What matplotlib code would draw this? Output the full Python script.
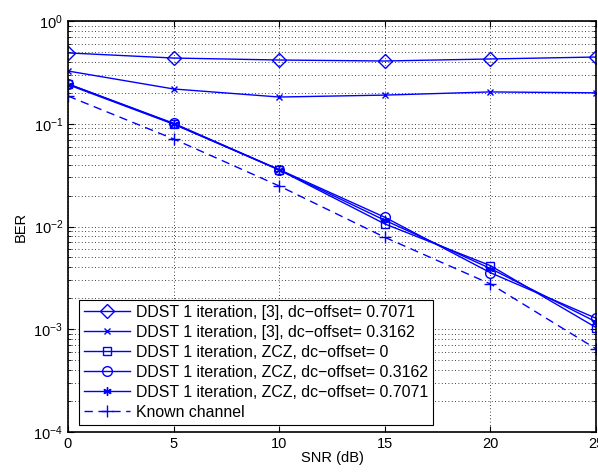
import numpy as np
import matplotlib
matplotlib.use('Agg')
from matplotlib import pyplot as plt
from matplotlib.ticker import LogLocator, NullFormatter

plt.rcParams['font.family'] = ['Liberation Sans', 'DejaVu Sans']
plt.rcParams['mathtext.fontset'] = 'custom'
plt.rcParams['mathtext.rm'] = 'Liberation Sans'

snr = [0, 5, 10, 15, 20, 25]
ber_ref3_07 = [0.489, 0.436, 0.417, 0.408, 0.427, 0.446]
ber_ref3_03 = [0.326, 0.218, 0.182, 0.190, 0.204, 0.200]
ber_zcz_0 = [0.244, 0.100, 0.0355, 0.0106, 0.00416, 0.00104]
ber_zcz_03 = [0.244, 0.101, 0.0358, 0.0123, 0.00355, 0.00128]
ber_zcz_07 = [0.240, 0.099, 0.0356, 0.0115, 0.00390, 0.00118]
ber_known = [0.186, 0.0711, 0.0248, 0.00785, 0.00276, 0.000645]

labels = ['DDST 1 iteration, [3], dc\u2212offset= 0.7071',
          'DDST 1 iteration, [3], dc\u2212offset= 0.3162',
          'DDST 1 iteration, ZCZ, dc\u2212offset= 0',
          'DDST 1 iteration, ZCZ, dc\u2212offset= 0.3162',
          'DDST 1 iteration, ZCZ, dc\u2212offset= 0.7071',
          'Known channel']

fig = plt.figure(figsize=(5.98, 4.76), dpi=100)
ax = fig.add_axes([0.1137, 0.0924, 0.8830, 0.8635])

blue = (0, 0, 1)
ax.semilogy(snr, ber_ref3_07, '-', color=blue, marker='D', ms=7, mfc='none', lw=1, label=labels[0])
ax.semilogy(snr, ber_ref3_03, '-', color=blue, marker='x', ms=5, lw=1, label=labels[1])
ax.semilogy(snr, ber_zcz_0, '-', color=blue, marker='s', ms=6, mfc='none', lw=1, label=labels[2])
ax.semilogy(snr, ber_zcz_03, '-', color=blue, marker='o', ms=7, mfc='none', lw=1, label=labels[3])
ax.semilogy(snr, ber_zcz_07, '-', color=blue, marker=(6, 2, 0), ms=6, lw=1, label=labels[4])
ax.semilogy(snr, ber_known, '--', color=blue, marker='+', ms=8, lw=1, dashes=(6, 4), label=labels[5])

ax.set_xlim(0, 25)
ax.set_ylim(1e-4, 1)
ax.set_xticks(snr)
ax.yaxis.set_major_locator(LogLocator(base=10, numticks=10))
ax.yaxis.set_minor_locator(LogLocator(base=10, subs=np.arange(2, 10), numticks=10))
ax.yaxis.set_minor_formatter(NullFormatter())

ax.grid(True, which='major', color='k', linestyle=(0, (1, 3)), lw=0.6)
ax.grid(True, which='minor', axis='y', color='k', linestyle=(0, (1, 3)), lw=0.6)
ax.tick_params(which='both', direction='in', top=True, right=True, labelsize=10.5)
ax.tick_params(which='major', length=4)
ax.tick_params(which='minor', length=2)
for s in ax.spines.values():
    s.set_linewidth(1.2)

ax.set_xlabel('SNR (dB)', fontsize=10.5, labelpad=0)
ax.set_ylabel('BER', fontsize=10.5, labelpad=4)

leg = ax.legend(loc='lower left', bbox_to_anchor=(0.021, 0.018), fontsize=11.4,
                fancybox=False, edgecolor='k', framealpha=1, handlelength=2.9,
                borderpad=0.3, labelspacing=0.32, handletextpad=0.4, borderaxespad=0)
leg.get_frame().set_linewidth(0.8)

fig.savefig('out.png', dpi=100)
